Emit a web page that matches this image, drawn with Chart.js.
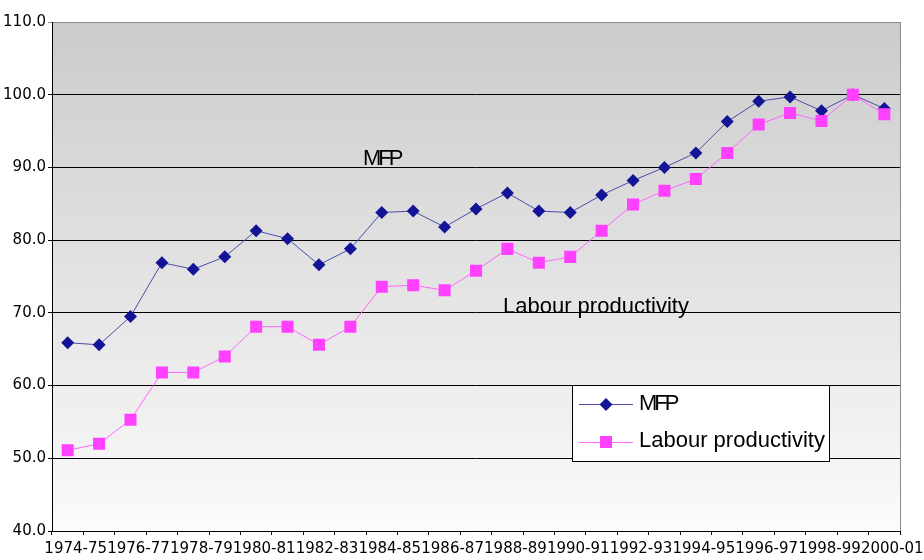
<!DOCTYPE html>
<html>
<head>
<meta charset="utf-8">
<script src="https://cdn.jsdelivr.net/npm/chart.js@4.4.1/dist/chart.umd.min.js"></script>
<style>
  html, body { margin: 0; padding: 0; background: #fff; }
</style>
</head>
<body>
<canvas id="chart" width="924" height="560"></canvas>
<script>
const years = [
  '1974-75', '1975-76', '1976-77', '1977-78', '1978-79', '1979-80', '1980-81',
  '1981-82', '1982-83', '1983-84', '1984-85', '1985-86', '1986-87', '1987-88',
  '1988-89', '1989-90', '1990-91', '1991-92', '1992-93', '1993-94', '1994-95',
  '1995-96', '1996-97', '1997-98', '1998-99', '1999-00', '2000-01',
]
const mfp = [
  65.9, 65.6, 69.5, 76.9, 76.0, 77.7, 81.3, 80.2, 76.6, 78.8, 83.8, 84.0, 81.8, 84.3,
  86.5, 84.0, 83.8, 86.2, 88.2, 90.0, 92.0, 96.3, 99.1, 99.7, 97.8, 100.0, 98.1,
]
const labour = [
  51.1, 52.0, 55.3, 61.8, 61.8, 64.0, 68.1, 68.1, 65.6, 68.1, 73.6, 73.8, 73.1, 75.8,
  78.8, 76.9, 77.7, 81.3, 84.9, 86.8, 88.4, 92.0, 95.9, 97.5, 96.4, 100.0, 97.3,
]
const yMin = 40
const yMax = 110
const yStep = 10

const MFP_COLOR = '#141496'
const MFP_LINE = '#4c4cac'
const LAB_COLOR = '#ff40ff'
const LAB_LINE = '#ff66ff'
const TEXT_FONT = '22px "Liberation Sans", Arial, sans-serif'

// gradient fill behind the plot plus the grey right-hand frame
const plotBackground = {
  id: 'plotBackground',
  beforeDraw(chart) {
    const { ctx, chartArea: a } = chart
    const g = ctx.createLinearGradient(0, a.top, 0, a.bottom)
    g.addColorStop(0, '#cbcbcb')
    g.addColorStop(1, '#fbfbfb')
    ctx.save()
    ctx.fillStyle = g
    ctx.fillRect(a.left, a.top, a.right - a.left, a.bottom - a.top)
    ctx.strokeStyle = '#8c8c8c'
    ctx.lineWidth = 1
    ctx.beginPath()
    ctx.moveTo(Math.round(a.right) + 0.5, a.top)
    ctx.lineTo(Math.round(a.right) + 0.5, a.bottom)
    ctx.stroke()
    ctx.restore()
  }
}

function diamond(ctx, x, y, r, color) {
  ctx.fillStyle = color
  ctx.beginPath()
  ctx.moveTo(x, y - r)
  ctx.lineTo(x + r, y)
  ctx.lineTo(x, y + r)
  ctx.lineTo(x - r, y)
  ctx.closePath()
  ctx.fill()
}

// series labels inside the plot and the boxed legend
const labelsAndLegend = {
  id: 'labelsAndLegend',
  afterDraw(chart) {
    const { ctx } = chart
    ctx.save()
    ctx.font = TEXT_FONT
    ctx.fillStyle = '#000'
    ctx.textBaseline = 'alphabetic'
    ctx.textAlign = 'left'

    ctx.letterSpacing = '-3px'
    ctx.fillText('MFP', 363, 165)
    ctx.letterSpacing = '0px'
    ctx.fillText('Labour productivity', 503, 313)

    // legend box
    ctx.fillStyle = '#fff'
    ctx.fillRect(572, 385, 257, 76)
    ctx.strokeStyle = '#000'
    ctx.lineWidth = 1
    ctx.strokeRect(572.5, 385.5, 257, 76)

    ctx.lineWidth = 1
    ctx.strokeStyle = MFP_LINE
    ctx.beginPath(); ctx.moveTo(579, 404.5); ctx.lineTo(633, 404.5); ctx.stroke()
    diamond(ctx, 606, 404.5, 6.5, MFP_COLOR)

    ctx.strokeStyle = LAB_LINE
    ctx.beginPath(); ctx.moveTo(579, 442.5); ctx.lineTo(633, 442.5); ctx.stroke()
    ctx.fillStyle = LAB_COLOR
    ctx.fillRect(600, 436, 12, 12)

    ctx.fillStyle = '#000'
    ctx.letterSpacing = '-3px'
    ctx.fillText('MFP', 639, 410)
    ctx.letterSpacing = '0px'
    ctx.fillText('Labour productivity', 639, 447)
    ctx.restore()
  }
}

new Chart(document.getElementById('chart'), {
  type: 'line',
  data: {
    labels: years,
    datasets: [
      {
        label: 'MFP',
        data: mfp,
        order: 1,
        borderColor: MFP_LINE,
        borderWidth: 1,
        pointStyle: 'rectRot',
        pointRadius: 6.5,
        pointBorderWidth: 0,
        pointBackgroundColor: MFP_COLOR,
        pointBorderColor: MFP_COLOR,
        tension: 0,
      },
      {
        label: 'Labour productivity',
        data: labour,
        order: 0,
        borderColor: LAB_LINE,
        borderWidth: 1,
        pointStyle: 'rect',
        pointRadius: 8.5,
        pointBorderWidth: 0,
        pointBackgroundColor: LAB_COLOR,
        pointBorderColor: LAB_COLOR,
        tension: 0,
      },
    ]
  },
  options: {
    responsive: false,
    animation: false,
    layout: { padding: { top: 22, right: 24, left: 0, bottom: 0 } },
    plugins: {
      legend: { display: false },
      tooltip: { enabled: false },
    },
    scales: {
      x: {
        offset: true,
        afterFit: s => { s.height = 29 },
        grid: {
          drawOnChartArea: false,
          offset: true,
          color: '#000',
          tickLength: 4,
        },
        border: { color: '#000', width: 1 },
        ticks: {
          autoSkip: false,
          maxRotation: 0,
          minRotation: 0,
          padding: 5,
          labelOffset: 8,
          color: '#000',
          font: { family: '"DejaVu Sans"', size: 15 },
          callback: (v, i) => (i % 2 === 0 ? years[i] : ''),
        }
      },
      y: {
        min: yMin,
        max: yMax,
        afterFit: s => { s.width = 52 },
        grid: {
          color: c => (c.tick && c.tick.value === yMax ? '#8c8c8c' : '#000'),
          tickLength: 4,
        },
        border: { color: '#000', width: 1 },
        ticks: {
          stepSize: yStep,
          padding: 2,
          color: '#000',
          font: { family: '"DejaVu Sans"', size: 15 },
          callback: v => v.toFixed(1),
        }
      }
    }
  },
  plugins: [plotBackground, labelsAndLegend]
})
</script>
</body>
</html>
